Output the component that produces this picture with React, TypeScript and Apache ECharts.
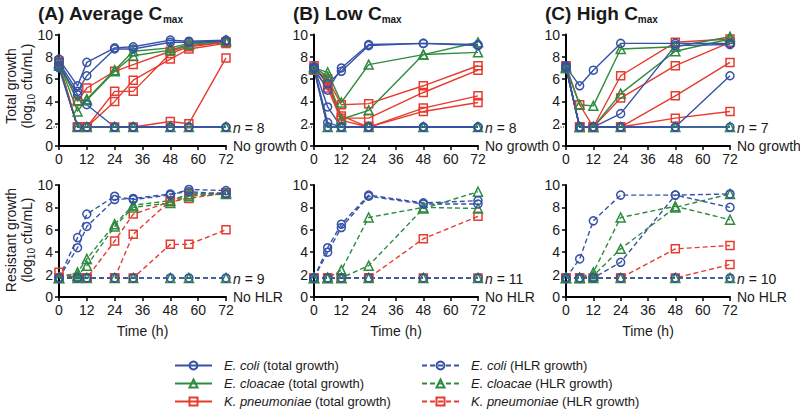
import React, { useEffect, useRef } from 'react';
import * as echarts from 'echarts';

const FONT = '"Liberation Sans", Arial, Helvetica, sans-serif';
const BLUE = '#3652a6';
const GREEN = '#2e8b3f';
const RED = '#e63b2f';
const INK = '#1a1a1a';

// ---- data ----
const timesA = [0, 8, 12, 24, 32, 48, 56, 72];
const timesBC = [0, 6, 12, 24, 48, 72];
const xTicks = [0, 12, 24, 36, 48, 60, 72];
const yTicks = [0, 2, 4, 6, 8, 10];
const LOD = 1.7;

// Panel A (Average Cmax) – total growth
const aTotEcoli = [
  [7.8, 5.4, 7.5, 8.8, 8.9, 9.5, 9.4, 9.5],
  [7.5, 4.9, 6.3, 8.7, 8.7, 9.3, 9.3, 9.4],
  [7.2, 4.6, 3.7, 1.7, 1.7, 1.7, 1.7, 1.7],
  [7.0, 1.7, 1.7, 1.7, 1.7, 1.7, 1.7, 1.7],
];
const aTotEcl = [
  [7.5, 3.1, 4.2, 6.8, 8.5, 8.8, 9.2, 9.5],
  [7.4, 4.1, 4.1, 6.7, 8.1, 8.6, 9.1, 9.4],
  [7.2, 1.7, 1.7, 1.7, 1.7, 1.7, 1.7, 1.7],
];
const aTotKpn = [
  [7.6, 4.0, 5.2, 6.7, 7.3, 8.5, 9.0, 9.3],
  [7.5, 1.7, 1.7, 4.0, 5.9, 7.8, 8.7, 9.2],
  [7.4, 1.7, 1.7, 4.9, 4.9, 8.3, 8.9, 9.3],
  [7.2, 1.7, 1.7, 1.7, 1.7, 2.2, 2.0, 7.9],
];
// Panel B (Low Cmax) – total growth
const bTotEcoli = [
  [7.0, 5.0, 7.0, 9.1, 9.2, 9.0],
  [7.1, 5.6, 6.7, 9.0, 9.2, 9.1],
  [7.1, 3.5, 1.7, 1.7, 1.7, 1.7],
  [7.0, 2.1, 1.7, 1.7, 1.7, 1.7],
  [6.9, 1.7, 1.7, 1.7, 1.7, 1.7],
];
const bTotEcl = [
  [7.0, 6.6, 3.9, 7.3, 8.2, 8.4],
  [7.1, 6.2, 2.4, 3.2, 8.2, 9.3],
  [6.9, 1.7, 1.7, 1.7, 1.7, 1.7],
];
const bTotKpn = [
  [6.9, 6.0, 3.7, 3.8, 5.4, 7.2],
  [7.2, 5.5, 2.5, 2.5, 4.8, 6.8],
  [7.0, 5.8, 2.7, 1.7, 3.4, 4.5],
  [6.8, 5.2, 2.3, 1.7, 3.1, 3.9],
];
// Panel C (High Cmax) – total growth
const cTotEcoli = [
  [7.1, 5.4, 6.8, 9.2, 9.2, 9.2],
  [7.2, 1.7, 1.7, 2.9, 9.0, 9.1],
  [7.0, 1.7, 1.7, 1.7, 1.7, 6.3],
  [7.1, 1.7, 1.7, 1.7, 1.7, 1.7],
];
const cTotEcl = [
  [7.0, 3.7, 3.6, 8.7, 8.9, 9.8],
  [7.0, 1.7, 1.7, 4.7, 8.5, 9.6],
  [7.1, 1.7, 1.7, 1.7, 1.7, 1.7],
];
const cTotKpn = [
  [7.2, 3.7, 1.7, 6.3, 9.3, 9.6],
  [7.1, 1.7, 1.7, 4.3, 7.2, 9.3],
  [7.0, 1.7, 1.7, 1.7, 4.5, 7.5],
  [7.0, 1.7, 1.7, 1.7, 2.5, 3.1],
];
// Panel A – HLR growth
const aHlrEcoli = [
  [1.7, 5.3, 7.4, 9.0, 8.7, 9.1, 9.6, 9.5],
  [1.7, 4.4, 6.3, 8.7, 8.8, 9.2, 9.4, 9.2],
  [1.7, 1.7, 1.7, 1.7, 1.7, 1.7, 1.7, 1.7],
];
const aHlrEcl = [
  [1.7, 2.2, 3.4, 6.5, 8.2, 8.6, 9.2, 9.3],
  [1.7, 1.9, 2.8, 6.3, 8.0, 8.4, 9.0, 9.2],
  [1.7, 1.7, 1.7, 1.7, 1.7, 1.7, 1.7, 1.7],
];
const aHlrKpn = [
  [2.2, 1.7, 1.7, 5.0, 7.4, 8.5, 8.8, 9.3],
  [1.7, 1.7, 1.7, 1.7, 5.6, 8.6, 9.1, 9.3],
  [1.7, 1.7, 1.7, 1.7, 1.7, 4.7, 4.7, 6.0],
];
// Panel B – HLR growth
const bHlrEcoli = [
  [1.7, 4.4, 6.5, 9.1, 8.4, 8.6],
  [1.7, 4.0, 6.2, 9.0, 8.3, 8.3],
  [1.7, 1.7, 1.7, 1.7, 1.7, 1.7],
];
const bHlrEcl = [
  [1.7, 1.7, 2.4, 7.1, 8.0, 7.9],
  [1.7, 1.7, 1.7, 2.8, 7.9, 9.4],
  [1.7, 1.7, 1.7, 1.7, 1.7, 1.7],
];
const bHlrKpn = [
  [1.7, 1.7, 1.7, 1.7, 5.2, 7.2],
  [1.7, 1.7, 1.7, 1.7, 1.7, 1.7],
];
// Panel C – HLR growth
const cHlrEcoli = [
  [1.7, 3.4, 6.8, 9.1, 9.1, 8.0],
  [1.7, 1.7, 1.7, 3.1, 9.1, 9.2],
  [1.7, 1.7, 1.7, 1.7, 1.7, 1.7],
];
const cHlrEcl = [
  [1.7, 1.7, 2.2, 7.1, 8.1, 6.9],
  [1.7, 1.7, 1.9, 4.3, 8.0, 9.2],
  [1.7, 1.7, 1.7, 1.7, 1.7, 1.7],
];
const cHlrKpn = [
  [1.7, 1.7, 1.7, 1.7, 4.3, 4.6],
  [1.7, 1.7, 1.7, 1.7, 1.7, 2.9],
];

const panelTitles = ['(A) Average C', '(B) Low C', '(C) High C'];
const nTotal = ['8', '8', '7'];
const nHlr = ['9', '11', '10'];
const species = ['E. coli', 'E. cloacae', 'K. pneumoniae'];
const totalNames = species.map((s) => `${s} (total growth)`);
const hlrNames = species.map((s) => `${s} (HLR growth)`);

// ---- layout ----
const gridLefts = [59, 314, 566];
const gridWidths = [167, 164, 164];
const topRow = { top: 34.5, height: 111.5 };
const botRow = { top: 185, height: 112 };

let measureCtx: CanvasRenderingContext2D | null = null;
function tw(text: string, size: number, bold = false, italic = false) {
  if (!measureCtx) measureCtx = document.createElement('canvas').getContext('2d');
  if (!measureCtx) return text.length * size * 0.55;
  measureCtx.font = `${italic ? 'italic ' : ''}${bold ? 'bold ' : ''}${size}px ${FONT}`;
  return measureCtx.measureText(text).width;
}

type Seg = { t: string; size: number; bold?: boolean; italic?: boolean; dy?: number };
function segText(segs: Seg[], x: number, y: number, align: 'left' | 'center', rotation = 0) {
  const widths = segs.map((s) => tw(s.t, s.size, s.bold, s.italic));
  const total = widths.reduce((a, b) => a + b, 0);
  let cx = align === 'center' ? -total / 2 : 0;
  const children = segs.map((s, i) => {
    const el = {
      type: 'text',
      x: cx,
      y: s.dy || 0,
      style: {
        text: s.t,
        fontSize: s.size,
        fontFamily: FONT,
        fontWeight: s.bold ? 'bold' : 'normal',
        fontStyle: s.italic ? 'italic' : 'normal',
        fill: INK,
        align: 'left',
        verticalAlign: 'middle',
      },
    };
    cx += widths[i];
    return el;
  });
  return { type: 'group', x, y, rotation, children };
}

const colorOf = [BLUE, GREEN, RED];
const symbolOf = ['circle', 'triangle', 'rect'];

function mkSeries(grid: number, times: number[], rows: number[][], sp: number, hlr: boolean) {
  const c = colorOf[sp];
  return rows.map((r) => ({
    type: 'line',
    name: hlr ? hlrNames[sp] : totalNames[sp],
    xAxisIndex: grid,
    yAxisIndex: grid,
    data: times.map((t, i) => [t, r[i]]),
    symbol: symbolOf[sp],
    symbolSize: sp === 1 ? 9 : 8,
    showAllSymbol: true,
    lineStyle: { color: c, width: 1.4, type: hlr ? [5, 3] : 'solid' },
    itemStyle: { color: 'rgba(255,255,255,0)', borderColor: c, borderWidth: 1.5 },
    emphasis: { disabled: true },
  }));
}

export default function App() {
  const ref = useRef<HTMLDivElement>(null);
  useEffect(() => {
    if (!ref.current) return;
    const chart = echarts.init(ref.current, undefined, { renderer: 'svg' });

    const grids: any[] = [];
    const xAxes: any[] = [];
    const yAxes: any[] = [];
    for (let row = 0; row < 2; row++) {
      for (let p = 0; p < 3; p++) {
        const r = row === 0 ? topRow : botRow;
        const gi = grids.length;
        grids.push({ left: gridLefts[p], width: gridWidths[p], top: r.top, height: r.height, containLabel: false });
        xAxes.push({
          type: 'value',
          gridIndex: gi,
          min: 0,
          max: 72,
          interval: 12,
          axisLine: { show: true, onZero: false, lineStyle: { color: '#000', width: 2 } },
          axisTick: { show: true, length: 4, lineStyle: { color: '#000', width: 1.5 } },
          axisLabel: {
            color: INK,
            fontSize: 14,
            fontFamily: FONT,
            margin: 6,
            formatter: (v: number) => (xTicks.includes(v) ? String(v) : ''),
          },
          splitLine: { show: false },
          name: row === 1 ? 'Time (h)' : '',
          nameLocation: 'middle',
          nameGap: 27,
          nameTextStyle: { color: INK, fontSize: 14, fontFamily: FONT },
        });
        yAxes.push({
          type: 'value',
          gridIndex: gi,
          min: 0,
          max: 10,
          interval: 2,
          axisLine: { show: true, onZero: false, lineStyle: { color: '#000', width: 2 } },
          axisTick: { show: true, length: 4, lineStyle: { color: '#000', width: 1.5 } },
          axisLabel: {
            color: INK,
            fontSize: 14,
            fontFamily: FONT,
            margin: 6,
            formatter: (v: number) => (yTicks.includes(v) ? String(v) : ''),
          },
          splitLine: { show: false },
        });
      }
    }

    const series: any[] = [
      // top row
      ...mkSeries(0, timesA, aTotKpn, 2, false),
      ...mkSeries(0, timesA, aTotEcl, 1, false),
      ...mkSeries(0, timesA, aTotEcoli, 0, false),
      ...mkSeries(1, timesBC, bTotKpn, 2, false),
      ...mkSeries(1, timesBC, bTotEcl, 1, false),
      ...mkSeries(1, timesBC, bTotEcoli, 0, false),
      ...mkSeries(2, timesBC, cTotKpn, 2, false),
      ...mkSeries(2, timesBC, cTotEcl, 1, false),
      ...mkSeries(2, timesBC, cTotEcoli, 0, false),
      // bottom row
      ...mkSeries(3, timesA, aHlrKpn, 2, true),
      ...mkSeries(3, timesA, aHlrEcl, 1, true),
      ...mkSeries(3, timesA, aHlrEcoli, 0, true),
      ...mkSeries(4, timesBC, bHlrKpn, 2, true),
      ...mkSeries(4, timesBC, bHlrEcl, 1, true),
      ...mkSeries(4, timesBC, bHlrEcoli, 0, true),
      ...mkSeries(5, timesBC, cHlrKpn, 2, true),
      ...mkSeries(5, timesBC, cHlrEcl, 1, true),
      ...mkSeries(5, timesBC, cHlrEcoli, 0, true),
    ];

    const graphic: any[] = [];
    const lodYTop = topRow.top + topRow.height * (1 - LOD / 10);
    const lodYBot = botRow.top + botRow.height * (1 - LOD / 10);
    for (let p = 0; p < 3; p++) {
      const left = gridLefts[p];
      const right = left + gridWidths[p];
      // titles
      graphic.push(
        segText(
          [
            { t: panelTitles[p], size: 19, bold: true },
            { t: 'max', size: 10, bold: true, dy: 6 },
          ],
          left - 21,
          13,
          'left'
        )
      );
      // LOD dotted tick
      graphic.push({
        type: 'line',
        shape: { x1: left - 8, y1: lodYTop, x2: left - 1, y2: lodYTop },
        style: { stroke: '#000', lineWidth: 1, lineDash: [1, 1.5] },
      });
      // annotations top
      graphic.push(
        segText(
          [
            { t: 'n', size: 14, italic: true },
            { t: ' = ' + nTotal[p], size: 14 },
          ],
          right + 7,
          lodYTop + 1,
          'left'
        )
      );
      graphic.push(segText([{ t: 'No growth', size: 14 }], right + 7, 146, 'left'));
      // annotations bottom
      graphic.push(
        segText(
          [
            { t: 'n', size: 14, italic: true },
            { t: ' = ' + nHlr[p], size: 14 },
          ],
          right + 7,
          lodYBot + 1,
          'left'
        )
      );
      graphic.push(segText([{ t: 'No HLR', size: 14 }], right + 7, 297, 'left'));
    }
    // y-axis titles (rotated)
    const rot = Math.PI / 2;
    graphic.push(segText([{ t: 'Total growth', size: 14 }], 11, 86, 'center', rot));
    graphic.push(
      segText(
        [
          { t: '(log', size: 14 },
          { t: '10', size: 10, dy: 4 },
          { t: ' cfu/mL)', size: 14 },
        ],
        27,
        86,
        'center',
        rot
      )
    );
    graphic.push(segText([{ t: 'Resistant growth', size: 14 }], 11, 240, 'center', rot));
    graphic.push(
      segText(
        [
          { t: '(log', size: 14 },
          { t: '10', size: 10, dy: 4 },
          { t: ' cfu/mL)', size: 14 },
        ],
        27,
        240,
        'center',
        rot
      )
    );

    const legendBase = {
      orient: 'vertical',
      top: 354,
      itemWidth: 37,
      itemHeight: 10,
      itemGap: 5,
      selectedMode: false,
      textStyle: {
        fontSize: 13,
        fontFamily: FONT,
        color: INK,
        rich: {
          i: { fontSize: 13, fontFamily: FONT, color: INK, fontStyle: 'italic', padding: [0, 0, 0, 7] },
          n: { fontSize: 13, fontFamily: FONT, color: INK },
        },
      },
      formatter: (name: string) => {
        const k = name.indexOf(' (');
        return `{i|${name.slice(0, k)}}{n|${name.slice(k)}}`;
      },
    };

    chart.setOption({
      animation: false,
      grid: grids,
      xAxis: xAxes,
      yAxis: yAxes,
      series,
      graphic,
      legend: [
        { ...legendBase, left: 169, data: totalNames },
        { ...legendBase, left: 416, data: hlrNames },
      ],
    });
    return () => chart.dispose();
  }, []);
  return (
    <div
      ref={ref}
      style={{ position: 'absolute', left: 0, top: 0, width: 800, height: 416, background: '#fff' }}
    />
  );
}
